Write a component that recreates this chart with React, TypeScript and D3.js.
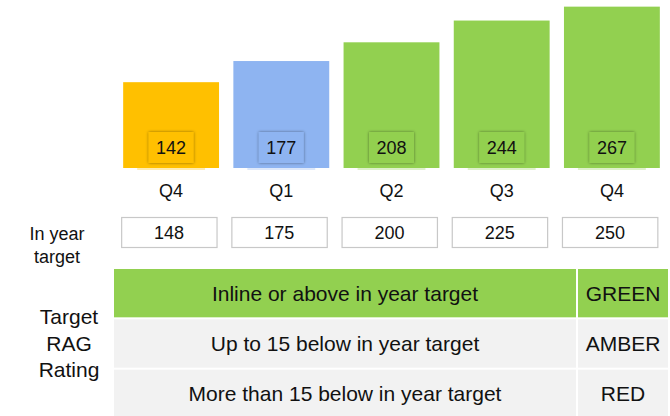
import * as d3 from 'd3';
import { useEffect, useRef } from 'react';

const quarters = ['Q4', 'Q1', 'Q2', 'Q3', 'Q4'];
const actuals = [142, 177, 208, 244, 267];
const targets = [148, 175, 200, 225, 250];
const ragColors = ['#FFC000', '#8EB4F1', '#92D050', '#92D050', '#92D050'];

const ragRules = ['Inline or above in year target', 'Up to 15 below in year target', 'More than 15 below in year target'];
const ragNames = ['GREEN', 'AMBER', 'RED'];
const ragFills = ['#92D050', '#F2F2F2', '#F2F2F2'];

const FONT = '"Liberation Sans", Arial, sans-serif';

function App() {
  const svgRef = useRef<SVGSVGElement>(null);

  useEffect(() => {
    const svg = d3.select(svgRef.current);
    svg.selectAll('*').remove();

    const xScale = d3.scaleBand<number>()
      .domain(d3.range(quarters.length))
      .range([116, 667])
      .paddingInner(0.13)
      .paddingOuter(0.065);

    const yScale = d3.scaleLinear()
      .domain([0, 278])
      .range([168, 0]);

    const defs = svg.append('defs');
    const glow = defs.append('filter')
      .attr('id', 'lblShadow')
      .attr('x', '-30%').attr('y', '-30%')
      .attr('width', '160%').attr('height', '160%');
    glow.append('feDropShadow')
      .attr('dx', 0).attr('dy', 0)
      .attr('stdDeviation', 1.6)
      .attr('flood-color', '#000')
      .attr('flood-opacity', 0.45);

    const bars = svg.append('g')
      .selectAll('g')
      .data(actuals)
      .join('g');

    // the bars
    bars.append('rect')
      .attr('x', (d, i) => xScale(i)!)
      .attr('y', d => yScale(d))
      .attr('width', xScale.bandwidth())
      .attr('height', d => yScale(0) - yScale(d))
      .attr('fill', (d, i) => ragColors[i]);

    // faint reflection line under each bar
    bars.append('rect')
      .attr('x', (d, i) => xScale(i)! + 14)
      .attr('y', yScale(0))
      .attr('width', xScale.bandwidth() - 28)
      .attr('height', 2)
      .attr('fill', (d, i) => ragColors[i])
      .attr('opacity', 0.3);

    // value label boxes
    const lblW = 45;
    const lblH = 31;
    bars.append('rect')
      .attr('x', (d, i) => xScale(i)! + xScale.bandwidth() / 2 - lblW / 2)
      .attr('y', yScale(0) - 5 - lblH)
      .attr('width', lblW)
      .attr('height', lblH)
      .attr('fill', (d, i) => ragColors[i])
      .attr('filter', 'url(#lblShadow)');

    bars.append('text')
      .attr('x', (d, i) => xScale(i)! + xScale.bandwidth() / 2)
      .attr('y', yScale(0) - 14)
      .attr('text-anchor', 'middle')
      .style('font-family', FONT)
      .style('font-size', '18px')
      .attr('fill', '#111')
      .text(d => d);

    // quarter labels
    svg.append('g')
      .selectAll('text')
      .data(quarters)
      .join('text')
      .attr('x', (d, i) => xScale(i)! + xScale.bandwidth() / 2)
      .attr('y', 197)
      .attr('text-anchor', 'middle')
      .style('font-family', FONT)
      .style('font-size', '18px')
      .attr('fill', '#111')
      .text(d => d);

    // in year target boxes
    const tg = svg.append('g')
      .selectAll('g')
      .data(targets)
      .join('g');

    tg.append('rect')
      .attr('x', (d, i) => xScale(i)! - 2 + 0.5)
      .attr('y', 217.5)
      .attr('width', xScale.bandwidth() - 0.5)
      .attr('height', 30)
      .attr('fill', '#fff')
      .attr('stroke', '#C8C8C8')
      .attr('stroke-width', 1.2);

    tg.append('text')
      .attr('x', (d, i) => xScale(i)! - 2 + xScale.bandwidth() / 2)
      .attr('y', 239)
      .attr('text-anchor', 'middle')
      .style('font-family', FONT)
      .style('font-size', '18px')
      .attr('fill', '#111')
      .text(d => d);

    const leftLbl = svg.append('text')
      .attr('text-anchor', 'middle')
      .style('font-family', FONT)
      .style('font-size', '18px')
      .attr('fill', '#111');
    leftLbl.append('tspan').attr('x', 57).attr('y', 240).text('In year');
    leftLbl.append('tspan').attr('x', 57).attr('y', 263).text('target');

    // RAG table
    const rowScale = d3.scaleBand<number>()
      .domain(d3.range(ragRules.length))
      .range([269, 418])
      .paddingInner(0.04);

    const rows = svg.append('g')
      .selectAll('g')
      .data(ragRules)
      .join('g');

    rows.append('rect')
      .attr('x', 114)
      .attr('y', (d, i) => rowScale(i)!)
      .attr('width', 576 - 114)
      .attr('height', rowScale.bandwidth())
      .attr('fill', (d, i) => ragFills[i]);

    rows.append('rect')
      .attr('x', 578)
      .attr('y', (d, i) => rowScale(i)!)
      .attr('width', 668 - 578)
      .attr('height', rowScale.bandwidth())
      .attr('fill', (d, i) => ragFills[i]);

    rows.append('text')
      .attr('x', (114 + 576) / 2)
      .attr('y', (d, i) => rowScale(i)! + rowScale.bandwidth() / 2 + 7.5)
      .attr('text-anchor', 'middle')
      .style('font-family', FONT)
      .style('font-size', '21px')
      .attr('fill', '#111')
      .text(d => d);

    rows.append('text')
      .attr('x', (578 + 668) / 2)
      .attr('y', (d, i) => rowScale(i)! + rowScale.bandwidth() / 2 + 7.5)
      .attr('text-anchor', 'middle')
      .style('font-family', FONT)
      .style('font-size', '21px')
      .attr('fill', '#111')
      .text((d, i) => ragNames[i]);

    const ragLbl = svg.append('text')
      .attr('text-anchor', 'middle')
      .style('font-family', FONT)
      .style('font-size', '21px')
      .attr('fill', '#111');
    ['Target', 'RAG', 'Rating'].forEach((t, i) => {
      ragLbl.append('tspan').attr('x', 69).attr('y', 324 + i * 26.5).text(t);
    });
  }, []);

  return (
    <svg
      ref={svgRef}
      width={670}
      height={416}
      style={{ position: 'absolute', left: 0, top: 0, background: '#fff' }}
    />
  );
}

export default App;
